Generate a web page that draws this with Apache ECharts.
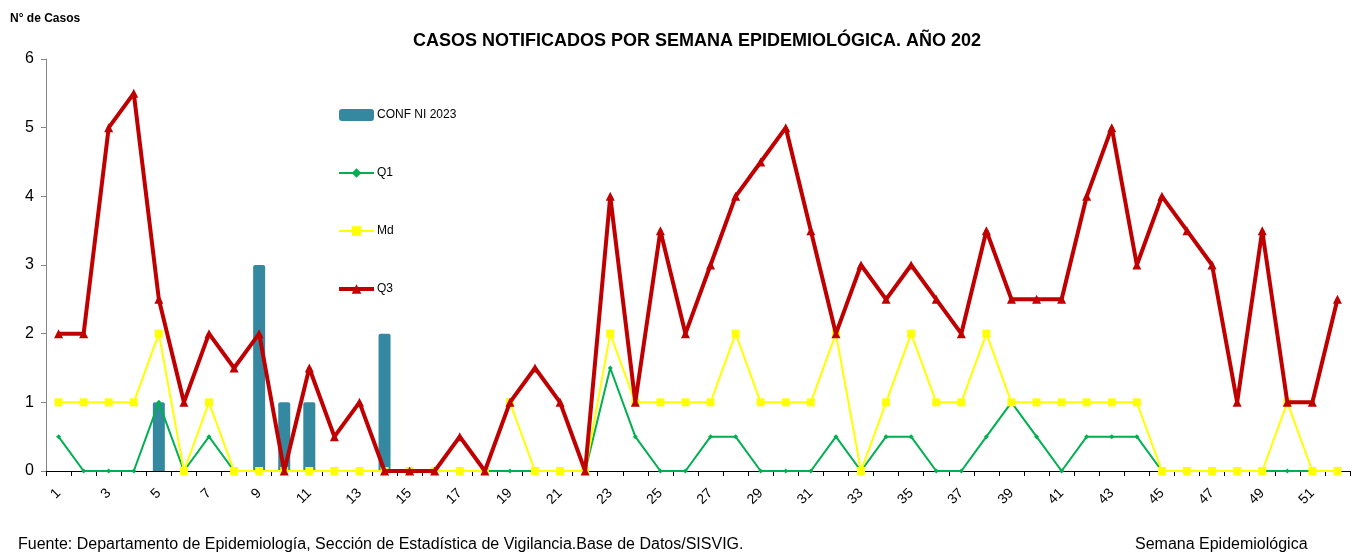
<!DOCTYPE html>
<html><head><meta charset="utf-8">
<script src="https://cdn.jsdelivr.net/npm/echarts@6/dist/echarts.min.js"></script>
<style>html,body{margin:0;padding:0;background:#fff}#c{width:1359px;height:556px}</style>
</head><body><div id="c"></div>
<script>
const weeks = Array.from({length:52},(_,i)=>String(i+1));
const conf2023 = [null,null,null,null,1,null,null,null,3,1,1,null,null,2,null,null,null,null,null,null,null,null,null,null,null,null,null,null,null,null,null,null,null,null,null,null,null,null,null,null,null,null,null,null,null,null,null,null,null,null,null,null];
const q1 = [0.5,0,0,0,1,0,0.5,0,0,0,0,0,0,0,0,0,0,0,0,0,0,0,1.5,0.5,0,0,0.5,0.5,0,0,0,0.5,0,0.5,0.5,0,0,0.5,1,0.5,0,0.5,0.5,0.5,0,0,0,0,0,0,0,0];
const md = [1,1,1,1,2,0,1,0,0,0,0,0,0,0,0,0,0,0,1,0,0,0,2,1,1,1,1,2,1,1,1,2,0,1,2,1,1,2,1,1,1,1,1,1,0,0,0,0,0,1,0,0];
const q3 = [2,2,5,5.5,2.5,1,2,1.5,2,0,1.5,0.5,1,0,0,0,0.5,0,1,1.5,1,0,4,1,3.5,2,3,4,4.5,5,3.5,2,3,2.5,3,2.5,2,3.5,2.5,2.5,2.5,4,5,3,4,3.5,3,1,3.5,1,1,2.5];
const yTicks = [0,1,2,3,4,5,6];

const chart = echarts.init(document.getElementById('c'), null, {renderer:'canvas'});
chart.setOption({
  animation:false,
  backgroundColor:'#fff',
  title:[
    {text:'CASOS NOTIFICADOS POR SEMANA EPIDEMIOLÓGICA. AÑO 202', left:408, top:27,
     textStyle:{fontFamily:'Liberation Sans, Arial, sans-serif', fontWeight:'bold', fontSize:18, color:'#000'}},
    {text:'N° de Casos', left:5, top:8, textStyle:{fontFamily:'Liberation Sans, Arial', fontWeight:'bold', fontSize:12, color:'#000'}},
    {text:'Fuente: Departamento de Epidemiología, Sección de Estadística de Vigilancia.Base de Datos/SISVIG.', left:13, top:532,
     textStyle:{fontFamily:'Liberation Sans, Arial, sans-serif', fontWeight:'normal', fontSize:16, color:'#000'}},
    {text:'Semana Epidemiológica', left:1130, top:532,
     textStyle:{fontFamily:'Liberation Sans, Arial, sans-serif', fontWeight:'normal', fontSize:16, color:'#000'}}
  ],
  legend:{
    orient:'vertical', left:332, top:104, itemGap:46, itemWidth:35, itemHeight:12,
    textStyle:{fontFamily:'Liberation Sans, Arial, sans-serif', fontSize:12, color:'#000', padding:[0,0,0,-2]},
    data:[
      {name:'CONF NI 2023'},
      {name:'Q1', lineStyle:{width:2}},
      {name:'Md', lineStyle:{width:2}},
      {name:'Q3', lineStyle:{width:4}}
    ]
  },
  grid:{left:46, right:9, top:59, bottom:85, containLabel:false},
  xAxis:{
    type:'category', data:weeks, boundaryGap:true,
    axisLine:{lineStyle:{color:'#000', width:1}},
    axisTick:{show:true, interval:0, length:5, lineStyle:{color:'#000'}},
    axisLabel:{interval:1, rotate:45, fontFamily:'Liberation Sans, Arial', fontSize:14, color:'#000', margin:20}
  },
  yAxis:{
    type:'value', min:0, max:6, interval:1,
    splitLine:{show:false},
    axisLine:{show:true, lineStyle:{color:'#868686', width:1}},
    axisTick:{show:true, length:5, lineStyle:{color:'#868686'}},
    axisLabel:{fontFamily:'Liberation Sans, Arial', fontSize:16, color:'#000', margin:12, formatter:v=>yTicks.includes(v)?String(v):''}
  },
  series:[
    {name:'CONF NI 2023', type:'bar', data:conf2023, barWidth:12, itemStyle:{color:'#34889F', borderRadius:[2,2,0,0]}, z:1},
    {name:'Q1', type:'line', data:q1, symbol:'diamond', symbolSize:5, lineStyle:{color:'#00B050', width:2}, itemStyle:{color:'#00B050'}, z:2},
    {name:'Md', type:'line', data:md, symbol:'rect', symbolSize:8, lineStyle:{color:'#FFFF00', width:2}, itemStyle:{color:'#FFFF00'}, z:3},
    {name:'Q3', type:'line', data:q3, symbol:'triangle', symbolSize:9, lineStyle:{color:'#C00000', width:4}, itemStyle:{color:'#C00000'}, z:4}
  ]
});
</script></body></html>
